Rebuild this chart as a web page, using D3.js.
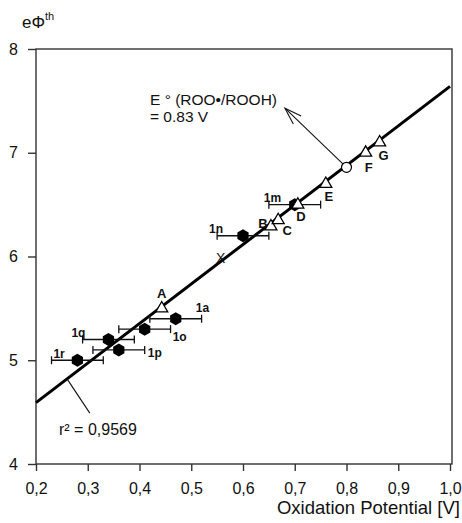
<!DOCTYPE html>
<html>
<head>
<meta charset="utf-8">
<script src="https://cdn.jsdelivr.net/npm/d3@7"></script>
<style>
  body { margin: 0; background: #fff; }
  svg { display: block; font-family: "Liberation Sans", Arial, sans-serif; }
</style>
</head>
<body>
<div class="chart"></div>
<script>
// data
const xTicks = [0.2, 0.3, 0.4, 0.5, 0.6, 0.7, 0.8, 0.9, 1.0];
const yTicks = [4, 5, 6, 7, 8];

// filled hexagons with horizontal error bars
const hexNames = ["1r", "1q", "1p", "1o", "1a", "1n", "1m"];
const hexX = [0.28, 0.34, 0.36, 0.41, 0.47, 0.60, 0.70];
const hexY = [5.0, 5.2, 5.1, 5.3, 5.4, 6.2, 6.5];
const hexErr = [0.05, 0.05, 0.05, 0.05, 0.05, 0.05, 0.05];

// open triangles
const triNames = ["A", "B", "C", "D", "E", "F", "G"];
const triX = [0.443, 0.654, 0.668, 0.706, 0.76, 0.837, 0.864];
const triY = [5.5, 6.29, 6.35, 6.5, 6.7, 7.0, 7.1];

// cross marker and open circle
const crossX = 0.557, crossY = 5.99;
const circX = 0.80, circY = 6.86;

// regression line y = a + b x
const fitA = 3.83, fitB = 3.81;

const width = 462, height = 523;
const x = d3.scaleLinear([0.2, 1.0], [36, 450]);
const y = d3.scaleLinear([4, 8], [464, 49]);

const svg = d3.select(".chart")
  .append("svg")
  .attr("width", width)
  .attr("height", height);

// frame
svg.append("rect")
  .attr("x", x(0.2)).attr("y", y(8))
  .attr("width", x(1.0) - x(0.2) + 2).attr("height", y(4) - y(8))
  .attr("fill", "none").attr("stroke", "#333").attr("stroke-width", 1.4);

const fmt = d => d3.format(".1f")(d).replace(".", ",");

const xAxis = svg.append("g")
  .attr("transform", `translate(0,${y(4)})`)
  .call(d3.axisBottom(x).tickValues(xTicks).tickFormat(fmt).tickSize(7).tickSizeOuter(0).tickPadding(12));
xAxis.select(".domain").remove();

const yAxis = svg.append("g")
  .attr("transform", `translate(${x(0.2)},0)`)
  .call(d3.axisLeft(y).tickValues(yTicks).tickFormat(d3.format("d")).tickSize(8).tickSizeOuter(0).tickPadding(10));
yAxis.select(".domain").remove();

svg.selectAll(".tick line").attr("stroke", "#333").attr("stroke-width", 1.4);
svg.selectAll(".tick text").attr("font-size", 16).attr("fill", "#111")
  .attr("font-family", "Liberation Sans, Arial, sans-serif");

// axis titles
const yTitle = svg.append("text")
  .attr("x", 22).attr("y", 28)
  .attr("font-size", 17).attr("fill", "#111");
yTitle.append("tspan").text("eΦ");
yTitle.append("tspan").attr("font-size", 11).attr("dy", -8).text("th");

svg.append("text")
  .attr("x", 460).attr("y", 514)
  .attr("text-anchor", "end")
  .attr("font-size", 18.5).attr("fill", "#111")
  .text("Oxidation Potential [V]");

// regression line
svg.append("line")
  .attr("x1", x(0.2)).attr("y1", y(fitA + fitB * 0.2))
  .attr("x2", x(1.0)).attr("y2", y(fitA + fitB * 1.0))
  .attr("stroke", "#000").attr("stroke-width", 3);

// r^2 annotation
const rX = 0.26;
svg.append("line")
  .attr("x1", x(rX)).attr("y1", y(fitA + fitB * rX))
  .attr("x2", x(0.304)).attr("y2", y(4.49))
  .attr("stroke", "#111").attr("stroke-width", 1.1);
svg.append("text")
  .attr("x", 59).attr("y", 435)
  .attr("font-size", 16).attr("fill", "#111")
  .text("r² = 0,9569");

// error bars
const hexData = hexNames.map((name, i) => ({name, x: hexX[i], y: hexY[i], e: hexErr[i]}));
const bars = svg.append("g").attr("stroke", "#111").attr("stroke-width", 1.3);
bars.selectAll("line.bar")
  .data(hexData).join("line").attr("class", "bar")
  .attr("x1", d => x(d.x - d.e)).attr("x2", d => x(d.x + d.e))
  .attr("y1", d => y(d.y)).attr("y2", d => y(d.y));
bars.selectAll("line.capL")
  .data(hexData).join("line").attr("class", "capL")
  .attr("x1", d => x(d.x - d.e)).attr("x2", d => x(d.x - d.e))
  .attr("y1", d => y(d.y) - 4).attr("y2", d => y(d.y) + 4);
bars.selectAll("line.capR")
  .data(hexData).join("line").attr("class", "capR")
  .attr("x1", d => x(d.x + d.e)).attr("x2", d => x(d.x + d.e))
  .attr("y1", d => y(d.y) - 4).attr("y2", d => y(d.y) + 4);

// hexagons
const hexPath = r => d3.line()(d3.range(6).map(k => {
  const a = Math.PI / 6 + k * Math.PI / 3;
  return [r * Math.cos(a), r * Math.sin(a)];
})) + "Z";
svg.append("g").selectAll("path")
  .data(hexData).join("path")
  .attr("transform", d => `translate(${x(d.x)},${y(d.y)})`)
  .attr("d", hexPath(6.5))
  .attr("fill", "#000");

// hexagon labels
const hexLabelPos = {
  "1r": [-24, -2], "1q": [-37, -3], "1p": [29, 7], "1o": [28, 12],
  "1a": [20, -7], "1n": [-34, -3], "1m": [-31, -3]
};
svg.append("g").selectAll("text")
  .data(hexData).join("text")
  .attr("x", d => x(d.x) + hexLabelPos[d.name][0])
  .attr("y", d => y(d.y) + hexLabelPos[d.name][1])
  .attr("font-size", 12).attr("font-weight", "bold").attr("fill", "#111")
  .text(d => d.name);

// cross marker
svg.append("text")
  .attr("x", x(crossX)).attr("y", y(crossY) + 5)
  .attr("text-anchor", "middle")
  .attr("font-size", 14).attr("fill", "#111")
  .text("X");

// triangles
const triData = triNames.map((name, i) => ({name, x: triX[i], y: triY[i]}));
svg.append("g").selectAll("path")
  .data(triData).join("path")
  .attr("transform", d => `translate(${x(d.x)},${y(d.y)})`)
  .attr("d", d3.symbol(d3.symbolTriangle, 62)())
  .attr("fill", "#fff").attr("stroke", "#000").attr("stroke-width", 1.3);

const triLabelPos = {
  A: [0, -10], B: [-8, 2], C: [9, 15], D: [3, 16], E: [3, 17], F: [3, 19], G: [4, 18]
};
svg.append("g").selectAll("text")
  .data(triData).join("text")
  .attr("x", d => x(d.x) + triLabelPos[d.name][0])
  .attr("y", d => y(d.y) + triLabelPos[d.name][1])
  .attr("text-anchor", "middle")
  .attr("font-size", 13).attr("font-weight", "bold").attr("fill", "#111")
  .text(d => d.name);

// open circle + arrow to annotation
const tipX = 0.681, tipY = 7.43;
const sx = x(circX), sy = y(circY), tx = x(tipX), ty = y(tipY);
const ang = Math.atan2(ty - sy, tx - sx);
const r0 = 5;
svg.append("line")
  .attr("x1", sx + r0 * Math.cos(ang)).attr("y1", sy + r0 * Math.sin(ang))
  .attr("x2", tx).attr("y2", ty)
  .attr("stroke", "#111").attr("stroke-width", 1.1);
const barb = 18, spread = 0.32;
svg.append("path")
  .attr("d", d3.line()([
    [tx - barb * Math.cos(ang - spread), ty - barb * Math.sin(ang - spread)],
    [tx, ty],
    [tx - barb * Math.cos(ang + spread), ty - barb * Math.sin(ang + spread)]
  ]))
  .attr("fill", "none").attr("stroke", "#111").attr("stroke-width", 1.1);

svg.append("circle")
  .attr("cx", sx).attr("cy", sy).attr("r", r0)
  .attr("fill", "#fff").attr("stroke", "#000").attr("stroke-width", 1.2);

svg.append("text")
  .attr("x", 150).attr("y", 105)
  .attr("font-size", 15.5).attr("fill", "#111")
  .text("E ° (ROO•/ROOH)");
svg.append("text")
  .attr("x", 150).attr("y", 122)
  .attr("font-size", 15.5).attr("fill", "#111")
  .text("= 0.83 V");
</script>
</body>
</html>
